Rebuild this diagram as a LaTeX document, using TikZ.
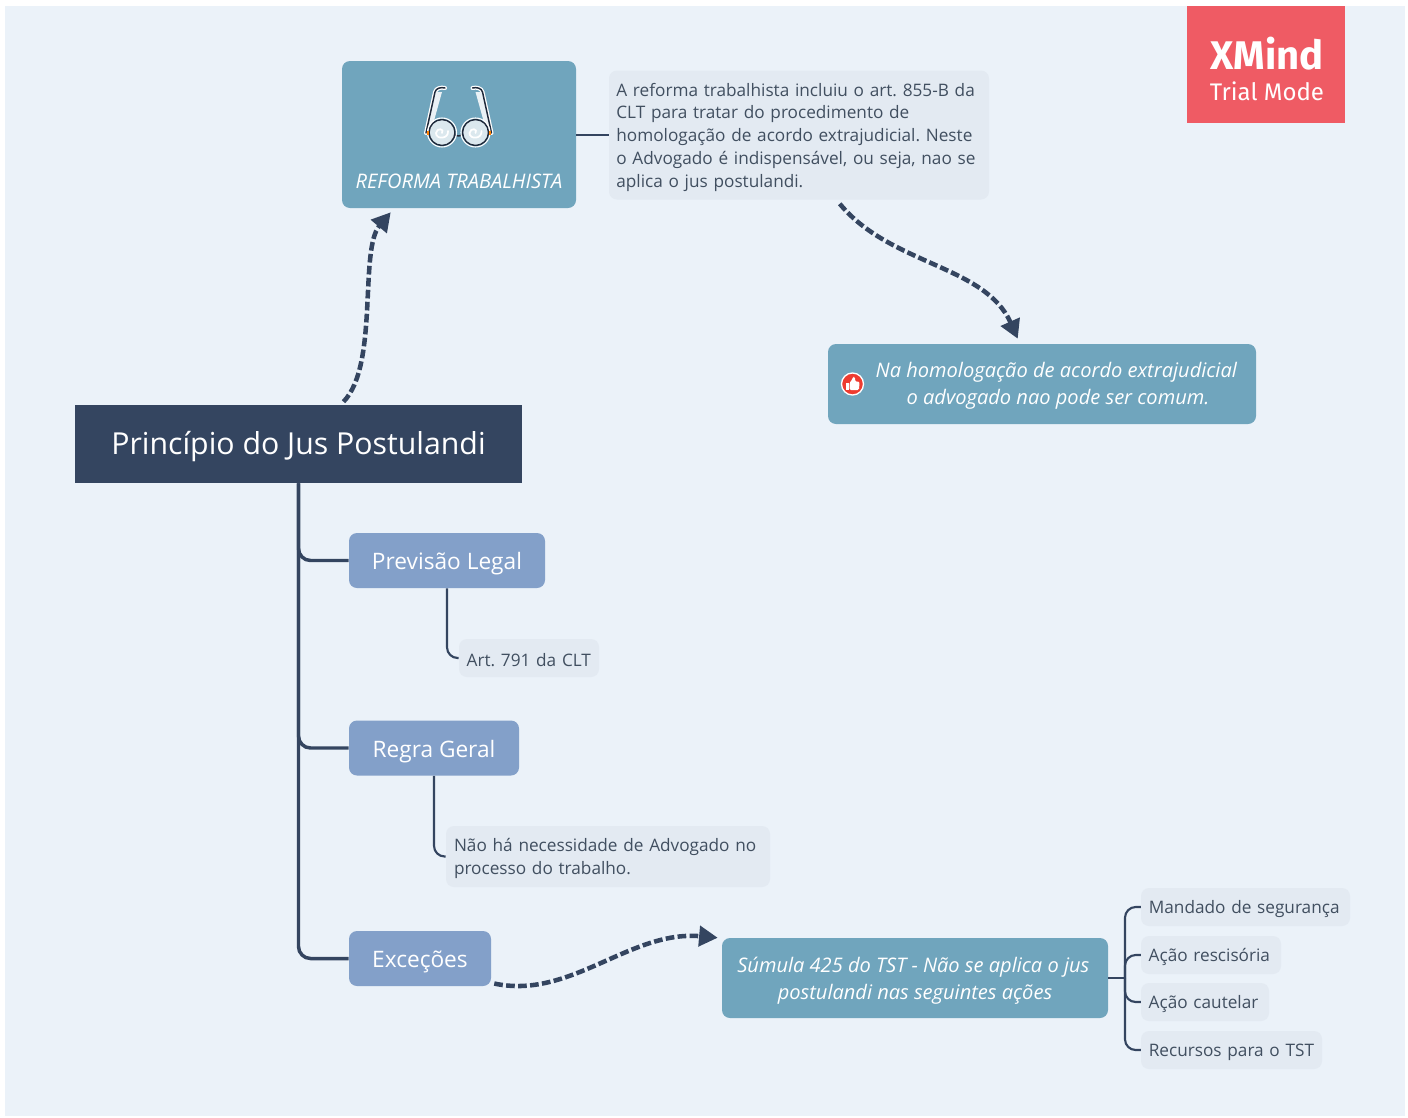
\documentclass[tikz,border=0pt]{standalone}
\usepackage{fontspec}
\setmainfont{Open Sans}
\newfontfamily\logofont{Fira Sans}
\usetikzlibrary{arrows.meta,calc}
\frenchspacing
\definecolor{bgc}{HTML}{EBF2F9}
\definecolor{darkc}{HTML}{344560}
\definecolor{tealc}{HTML}{70A5BD}
\definecolor{bluec}{HTML}{83A0C9}
\definecolor{grayc}{HTML}{E3EAF2}
\definecolor{textc}{HTML}{414F60}
\definecolor{redc}{HTML}{EF5B64}
\definecolor{thumbc}{HTML}{EE3B30}
\tikzset{
  x=0.75pt,y=-0.75pt,
  rootbox/.style={fill=darkc,text=white,minimum width=335.25pt,minimum height=58.5pt,inner sep=0pt,text height=17pt,text depth=1pt,font=\fontsize{22.7}{28}\selectfont},
  topicbox/.style={fill=bluec,text=white,rounded corners=6pt,minimum height=41.25pt,inner sep=0pt,text height=14.5pt,text depth=1pt,font=\fontsize{17}{21}\selectfont},
  tealbox/.style={fill=tealc,rounded corners=6pt,inner sep=0pt},
  tealtext/.style={text=white,inner sep=0pt,align=center,font=\fontsize{15.05}{20.1}\selectfont\itshape},
  notebox/.style={fill=grayc,text=textc,rounded corners=6pt,inner sep=0pt,align=left,font=\fontsize{12.9}{17.06}\selectfont,execute at begin node={\rule{0pt}{13pt}}},
  mainline/.style={draw=darkc,line width=2.6pt,rounded corners=9pt},
  subline/.style={draw=darkc,line width=1.6pt,rounded corners=8pt},
  dasharrow/.style={draw=darkc,line width=3.4pt,dash pattern=on 6.5pt off 2.5pt,-{Triangle[length=14pt,width=15pt,fill=darkc]}},
}
\begin{document}
\begin{tikzpicture}
\useasboundingbox (0,0) rectangle (1408,1117);
\fill[white] (0,0) rectangle (1408,1117);
\fill[bgc] (5,6) rectangle (1405,1116);

% boxes
\node[rootbox] (root) at (298.5,444) {Princípio do Jus Postulandi};
\node[tealbox,minimum width=175.5pt,minimum height=110.25pt] (reforma) at (459,134.5) {};
\node[tealtext] (reformatxt) at (459,181) {REFORMA TRABALHISTA};
\node[notebox,minimum width=285pt,minimum height=96.75pt,text width=274pt] (desc) at (799,135)
 {A reforma trabalhista incluiu o art. 855-B da\\CLT para tratar do procedimento de\\homologação de acordo extrajudicial. Neste\\o Advogado é indispensável, ou seja, nao se\\aplica o jus postulandi.};
\node[tealbox,minimum width=321pt,minimum height=60pt] (homolog) at (1042,384) {};
\node[tealtext] (homologtxt) at (1058,386) {Na homologação de acordo extrajudicial\kern2.5pt\\o advogado nao pode ser comum.};
\node[topicbox,minimum width=147pt] (prev) at (447,560.5) {Previsão Legal};
\node[notebox,minimum width=105pt,minimum height=28.5pt,text width=93.5pt] (art) at (529,658) {\mbox{Art. 791 da CLT}};
\node[topicbox,minimum width=127.5pt] (regra) at (434,748) {Regra Geral};
\node[notebox,minimum width=243pt,minimum height=45.75pt,text width=231pt] (naoha) at (608,856.5) {Não há necessidade de Advogado no\\processo do trabalho.};
\node[topicbox,minimum width=106.5pt] (exc) at (420,958.5) {Exceções};
\node[tealbox,minimum width=289.5pt,minimum height=60pt] (sumula) at (915,978) {};
\node[tealtext] (sumulatxt) at (915,980.5) {Súmula 425 do TST - Não se aplica o jus\kern2.5pt\\postulandi nas seguintes ações};
\node[notebox,minimum width=156.75pt,minimum height=28.5pt,text width=145pt] (mand) at (1245.5,907) {\mbox{Mandado de segurança}};
\node[notebox,minimum width=105pt,minimum height=28.5pt,text width=93.5pt] (resc) at (1211,955) {\mbox{Ação rescisória}};
\node[notebox,minimum width=96pt,minimum height=28.5pt,text width=84.5pt] (caut) at (1205,1002) {\mbox{Ação cautelar}};
\node[notebox,minimum width=135.75pt,minimum height=28.5pt,text width=124pt] (recur) at (1231.5,1050) {\mbox{Recursos para o TST}};
\node[fill=redc,minimum width=118.5pt,minimum height=87.75pt,inner sep=0pt] (logo) at (1266,64.5) {};
\node[text=white,inner sep=0pt,font=\logofont\fontsize{30}{33}\selectfont\bfseries] (logoa) at (1267,54) {XMind};
\node[text=white,inner sep=0pt,font=\logofont\fontsize{18}{20}\selectfont] (logob) at (1267,91) {Trial Mode};

% connectors
\draw[mainline] (root.south) -- (root.south |- exc.west) -- (exc.west);
\draw[mainline] (root.south) -- (root.south |- prev.west) -- (prev.west);
\draw[mainline] (root.south) -- (root.south |- regra.west) -- (regra.west);
\draw[subline] (prev.south) |- (art.west);
\draw[subline] (regra.south) |- (naoha.west);
\draw[subline,rounded corners=0pt] (reforma.east |- desc.west) -- (desc.west);
\coordinate (fork) at (1125,978);
\draw[subline,rounded corners=0pt] (sumula.east) -- (fork);
\draw[subline] (fork) |- (mand.west);
\draw[subline] (fork) |- (resc.west);
\draw[subline] (fork) |- (caut.west);
\draw[subline] (fork) |- (recur.west);

\draw[dasharrow] ($(root.north)+(45,-3)$) .. controls (379,365) and (359,250) .. ($(reforma.south west)+(49,4)$);
\draw[dasharrow] ($(desc.south west)+(231,4)$) .. controls (890,265) and (985,265) .. ($(homolog.north west)+(190,-5)$);
\draw[dasharrow] ($(exc.east)+(3,25)$) .. controls (570,1000) and (630,930) .. ($(sumula.north west)+(-4,0)$);

% glasses icon
\begin{scope}[line join=round,line cap=round]
  \draw[white,line width=3pt] (426,133) -- (435,92) .. controls (436,88) and (441,87) .. (445,88);
  \draw[white,line width=3pt] (491.5,133) -- (482.5,92) .. controls (481.5,88) and (476.5,87) .. (472.5,88);
  \fill[white!85!tealc] (426,133) -- (435,92) -- (442,92) -- (432,128) -- cycle;
  \fill[white!85!tealc] (491.5,133) -- (482.5,92) -- (475.5,92) -- (485.5,128) -- cycle;
  \draw[darkc!60!black,line width=1.1pt] (426,133) -- (435,92) .. controls (436,88) and (441,87) .. (445,88);
  \draw[darkc!60!black,line width=1.1pt] (491.5,133) -- (482.5,92) .. controls (481.5,88) and (476.5,87) .. (472.5,88);
  \draw[darkc!60!black,line width=1.1pt] (453,133) .. controls (456,137) and (461,137) .. (464,133);
  \draw[darkc!60!black,fill=white!75!tealc,line width=1.1pt] (442,132.5) circle[radius=13];
  \draw[darkc!60!black,fill=white!75!tealc,line width=1.1pt] (475.5,132.5) circle[radius=13];
  \draw[white,line width=.8pt] (442,132.5) circle[radius=14.5];
  \draw[white,line width=.8pt] (475.5,132.5) circle[radius=14.5];
  \draw[white,line width=1.3pt] (442,133) .. controls (445,129) and (437,127) .. (436,133) .. controls (436,140) and (449,139) .. (448,131);
  \draw[white,line width=1.3pt] (475.5,133) .. controls (478.5,129) and (470.5,127) .. (469.5,133) .. controls (469.5,140) and (482.5,139) .. (481.5,131);
  \fill[orange] (426.5,131) rectangle (429,135);
  \fill[orange] (488.5,131) rectangle (491,135);
\end{scope}

% thumbs-up icon
\draw[white,fill=thumbc,line width=1pt] (852.5,384) circle[radius=11];
\fill[white] (845.5,383) rectangle (848.5,390);
\fill[white,rounded corners=1pt] (849.5,383) -- (852.5,379) -- (853,376.5) -- (855,377) -- (855,381.5) -- (859.5,381.5) -- (859,390) -- (849.5,390) -- cycle;
\end{tikzpicture}
\end{document}
